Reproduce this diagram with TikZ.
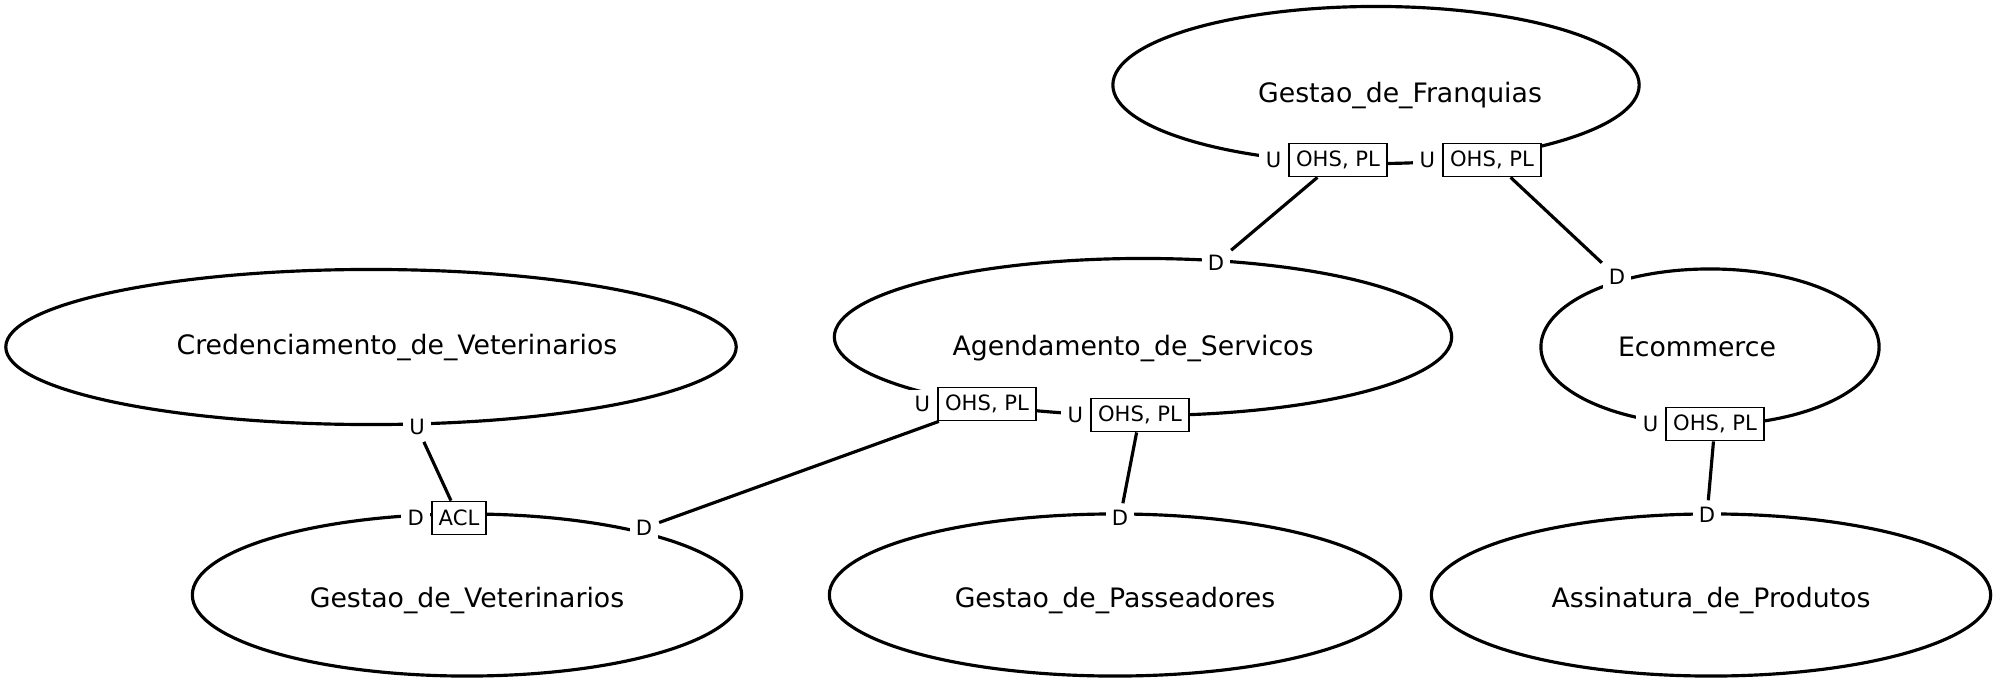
\documentclass[tikz,border=0pt]{standalone}
\usepackage{fontspec}
\setmainfont{DejaVu Sans}
\usetikzlibrary{shapes.geometric,positioning}
\tikzset{
  contexto/.style={
    ellipse, draw, line width=0.9pt, inner sep=0pt},
  nome/.style={
    font=\fontsize{7.6}{9}\selectfont},
  papel/.style={
    fill=white, inner sep=1.8pt, font=\fontsize{6}{7}\selectfont},
  padrao/.style={
    rectangle, draw, line width=0.5pt, fill=white,
    font=\fontsize{6}{7}\selectfont, inner xsep=2pt, inner ysep=1pt,
    minimum height=0.33cm},
  relacao/.style={line width=0.9pt}
}

\begin{document}
\begin{tikzpicture}[x=0.01cm, y=-0.01cm]
\useasboundingbox (0,0) rectangle (2000,685);

% contextos
\node[contexto, minimum width=5.26cm, minimum height=1.57cm,
  label={[nome, xshift=0.24cm, yshift=-0.1cm]center:Gestao\_de\_Franquias}]
  (franq) at (1376,85) {};
\node[contexto, minimum width=7.30cm, minimum height=1.55cm,
  label={[nome, xshift=0.26cm]center:Credenciamento\_de\_Veterinarios}]
  (cred) at (371,347) {};
\node[contexto, minimum width=6.17cm, minimum height=1.57cm,
  label={[nome, xshift=-0.1cm, yshift=-0.11cm]center:Agendamento\_de\_Servicos}]
  (agend) at (1143,337) {};
\node[contexto, minimum width=3.38cm, minimum height=1.56cm,
  label={[nome, xshift=-0.13cm]center:Ecommerce}]
  (ecom) at (1710,347) {};
\node[contexto, minimum width=5.49cm, minimum height=1.62cm,
  label={[nome, yshift=-0.05cm]center:Gestao\_de\_Veterinarios}]
  (gvet) at (467,595) {};
\node[contexto, minimum width=5.71cm, minimum height=1.62cm,
  label={[nome, yshift=-0.05cm]center:Gestao\_de\_Passeadores}]
  (gpass) at (1115,595) {};
\node[contexto, minimum width=5.59cm, minimum height=1.62cm,
  label={[nome, yshift=-0.05cm]center:Assinatura\_de\_Produtos}]
  (assin) at (1711,595) {};

% papeis upstream / downstream
\node[padrao] (franqB1) at (1338,160) {OHS, PL};
\node[papel, left=0pt of franqB1] (franqU1) {U};
\node[padrao] (franqB2) at (1492,160) {OHS, PL};
\node[papel, left=0pt of franqB2] (franqU2) {U};

\node[padrao] (agendB1) at (987,404) {OHS, PL};
\node[papel, left=0pt of agendB1] (agendU1) {U};
\node[padrao] (agendB2) at (1140,415) {OHS, PL};
\node[papel, left=0pt of agendB2] (agendU2) {U};
\node[papel] (agendD) at (1216,263) {D};

\node[padrao] (ecomB) at (1715,424) {OHS, PL};
\node[papel, left=0pt of ecomB] (ecomU) {U};
\node[papel] (ecomD) at (1617,277) {D};

\node[papel] (credU) at (417,427) {U};

\node[padrao] (gvetACL) at (459,518) {ACL};
\node[papel, left=0pt of gvetACL] (gvetD1) {D};
\node[papel] (gvetD2) at (644,528) {D};

\node[papel] (gpassD) at (1120,518) {D};
\node[papel] (assinD) at (1707,515) {D};

% relacoes
\draw[relacao] (franqB1) -- (agendD);
\draw[relacao] (franqB2) -- (ecomD);
\draw[relacao] (agendB1) -- (gvetD2);
\draw[relacao] (agendB2) -- (gpassD);
\draw[relacao] (credU) -- (gvetACL);
\draw[relacao] (ecomB) -- (assinD);

\end{tikzpicture}
\end{document}
